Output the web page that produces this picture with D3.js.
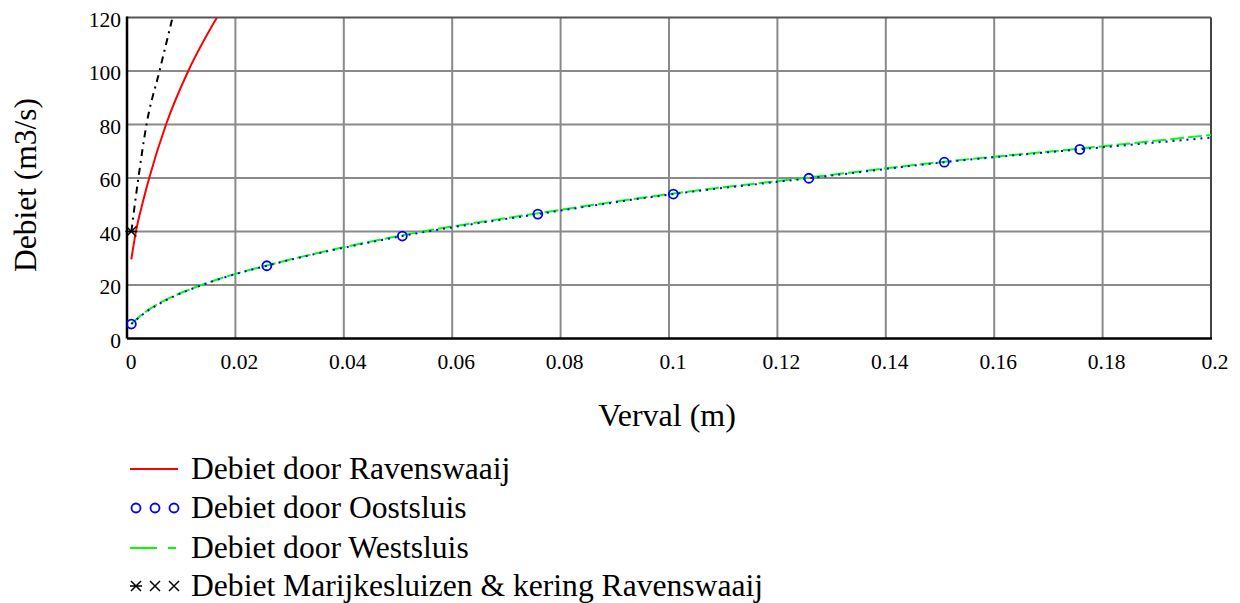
<!DOCTYPE html>
<html>
<head>
<meta charset="utf-8">
<script src="https://cdn.jsdelivr.net/npm/d3@7"></script>
<style>
  body { margin: 0; background: #fff; }
  text { font-family: "Liberation Serif", "Times New Roman", serif; fill: #000; }
</style>
</head>
<body>
<div id="chart"></div>
<script>
/* DATA */
const xTicks = [0, 0.02, 0.04, 0.06, 0.08, 0.1, 0.12, 0.14, 0.16, 0.18, 0.2];
const yTicks = [0, 20, 40, 60, 80, 100, 120];

// shared x values for Oostsluis / Westsluis
const verval = [0.0008, 0.0033, 0.0067, 0.011, 0.0147, 0.0184, 0.0258, 0.0508, 0.0758, 0.1008, 0.1258, 0.1508, 0.1758, 0.2];
const westsluis = [5.5, 9.8, 14.0, 17.9, 20.7, 23.2, 27.3, 38.6, 46.8, 54.2, 60.2, 66.1, 71.0, 76.1];
const oostsluis = [5.4, 9.6, 13.8, 17.8, 20.6, 23.1, 27.2, 38.3, 46.5, 54.0, 59.9, 65.9, 70.7, 75.1];
// Oostsluis points carrying a circle marker
const oostMarkers = [0, 6, 7, 8, 9, 10, 11, 12];

const ravenX = [0.0008, 0.0016, 0.0028, 0.0041, 0.0072, 0.0113, 0.0166];
const ravenswaaij = [29.6, 39.5, 50, 60, 80, 100, 120];

const marijkeX = [0.0008, 0.0021, 0.0036, 0.006, 0.0084];
const marijke = [40, 60, 80, 100, 120];

const legendLabels = [
  "Debiet door Ravenswaaij",
  "Debiet door Oostsluis",
  "Debiet door Westsluis",
  "Debiet Marijkesluizen & kering Ravenswaaij"
];

/* LAYOUT */
const width = 1240, height = 603;
const plot = { left: 127, right: 1211, top: 17.5, bottom: 338.5 };

const svg = d3.select("#chart").append("svg")
  .attr("width", width)
  .attr("height", height);

const xScale = d3.scaleLinear().domain([0, 0.2]).range([plot.left, plot.right]);
const yScale = d3.scaleLinear().domain([0, 120]).range([plot.bottom, plot.top]);

svg.append("clipPath").attr("id", "clip")
  .append("rect")
  .attr("x", plot.left).attr("y", plot.top)
  .attr("width", plot.right - plot.left)
  .attr("height", plot.bottom - plot.top);

// grid
svg.append("g")
  .selectAll("line")
  .data(xTicks.slice(1, -1))
  .join("line")
  .attr("x1", d => xScale(d)).attr("x2", d => xScale(d))
  .attr("y1", plot.top).attr("y2", plot.bottom)
  .attr("stroke", "#8a8a8a").attr("stroke-width", 2);

svg.append("g")
  .selectAll("line")
  .data(yTicks.slice(1, -1))
  .join("line")
  .attr("y1", d => yScale(d)).attr("y2", d => yScale(d))
  .attr("x1", plot.left).attr("x2", plot.right)
  .attr("stroke", "#8a8a8a").attr("stroke-width", 2);

// frame
svg.append("line")
  .attr("x1", plot.left).attr("x2", plot.right)
  .attr("y1", plot.top).attr("y2", plot.top)
  .attr("stroke", "#555").attr("stroke-width", 2);
svg.append("line")
  .attr("x1", plot.right).attr("x2", plot.right)
  .attr("y1", plot.top).attr("y2", plot.bottom)
  .attr("stroke", "#444").attr("stroke-width", 2);
svg.append("line")
  .attr("x1", plot.left).attr("x2", plot.right + 1)
  .attr("y1", plot.bottom).attr("y2", plot.bottom)
  .attr("stroke", "#000").attr("stroke-width", 2.5);
svg.append("line")
  .attr("x1", plot.left).attr("x2", plot.left)
  .attr("y1", plot.top - 1).attr("y2", plot.bottom)
  .attr("stroke", "#000").attr("stroke-width", 2.5);

// tick labels
svg.append("g")
  .selectAll("text")
  .data(xTicks)
  .join("text")
  .attr("x", d => xScale(d) + 4)
  .attr("y", 369)
  .attr("text-anchor", "middle")
  .attr("font-size", 21.5)
  .text(d => d3.format("")(d));

svg.append("g")
  .selectAll("text")
  .data(yTicks)
  .join("text")
  .attr("x", 121)
  .attr("y", d => yScale(d) + 9)
  .attr("text-anchor", "end")
  .attr("font-size", 21.5)
  .text(d => d);

// axis titles
svg.append("text")
  .attr("x", 667).attr("y", 426)
  .attr("text-anchor", "middle")
  .attr("font-size", 32)
  .text("Verval (m)");

svg.append("text")
  .attr("transform", `translate(36, ${185}) rotate(-90)`)
  .attr("text-anchor", "middle")
  .attr("font-size", 31.5)
  .text("Debiet (m3/s)");

/* SERIES */
const lineGen = d3.line()
  .x(d => xScale(d[0]))
  .y(d => yScale(d[1]))
  .curve(d3.curveMonotoneX);

const series = svg.append("g").attr("clip-path", "url(#clip)");

series.append("path")
  .datum(verval.map((x, i) => [x, westsluis[i]]))
  .attr("fill", "none").attr("stroke", "#00ff00").attr("stroke-width", 2)
  .attr("stroke-dasharray", "14,4")
  .attr("d", lineGen);

series.append("path")
  .datum(verval.map((x, i) => [x, oostsluis[i]]))
  .attr("fill", "none").attr("stroke", "#0000ff").attr("stroke-width", 2)
  .attr("stroke-dasharray", "2,5")
  .attr("d", lineGen);

series.append("path")
  .datum(ravenX.map((x, i) => [x, ravenswaaij[i]]))
  .attr("fill", "none").attr("stroke", "#ff0000").attr("stroke-width", 2)
  .attr("d", lineGen);

series.append("path")
  .datum(marijkeX.map((x, i) => [x, marijke[i]]))
  .attr("fill", "none").attr("stroke", "#000").attr("stroke-width", 2)
  .attr("stroke-dasharray", "7,5,2,5")
  .attr("d", lineGen);

series.selectAll(".oost")
  .data(oostMarkers)
  .join("circle")
  .attr("class", "oost")
  .attr("cx", i => xScale(verval[i]))
  .attr("cy", i => yScale(oostsluis[i]))
  .attr("r", 4.5)
  .attr("fill", "none").attr("stroke", "#0000ff").attr("stroke-width", 1.8);

function star(g, cx, cy, s, bar) {
  g.append("path")
    .attr("d", `M${cx - s},${cy - s}L${cx + s},${cy + s}M${cx - s},${cy + s}L${cx + s},${cy - s}` +
      (bar ? `M${cx - s - 1},${cy}L${cx + s + 1},${cy}` : ""))
    .attr("stroke", "#000").attr("stroke-width", 1.5).attr("fill", "none");
}
star(svg, xScale(marijkeX[0]), yScale(marijke[0]), 5, true);

/* LEGEND */
const legend = svg.append("g");
const legendY = [469, 508, 548, 586];

legend.selectAll("text")
  .data(legendLabels)
  .join("text")
  .attr("x", 191)
  .attr("y", (d, i) => legendY[i] + 10)
  .attr("font-size", 31.6)
  .text(d => d);

legend.append("line")
  .attr("x1", 130).attr("x2", 178)
  .attr("y1", legendY[0]).attr("y2", legendY[0])
  .attr("stroke", "#ff0000").attr("stroke-width", 2);

[136, 155, 174].forEach(cx => {
  legend.append("circle")
    .attr("cx", cx).attr("cy", legendY[1]).attr("r", 4.5)
    .attr("fill", "none").attr("stroke", "#0000ff").attr("stroke-width", 1.8);
});

legend.append("line")
  .attr("x1", 130).attr("x2", 178)
  .attr("y1", legendY[2]).attr("y2", legendY[2])
  .attr("stroke", "#00ff00").attr("stroke-width", 2)
  .attr("stroke-dasharray", "27,11,8,11");

[136, 155, 174].forEach((cx, i) => star(legend, cx, legendY[3], 5, i === 0));
</script>
</body>
</html>
